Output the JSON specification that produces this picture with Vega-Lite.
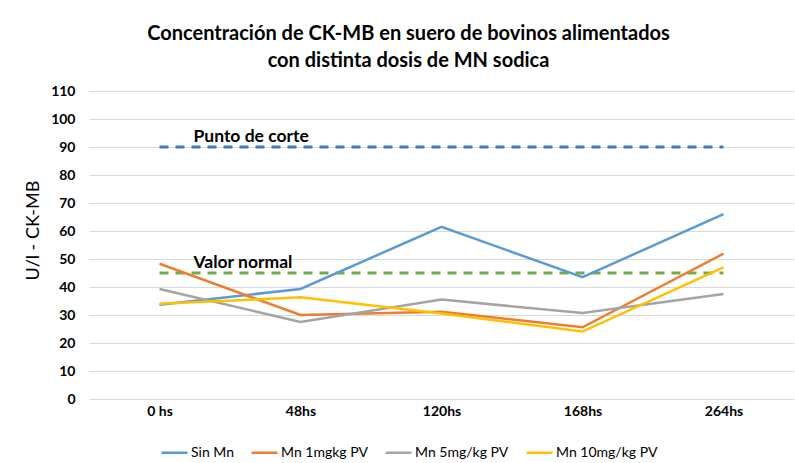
{
  "$schema": "https://vega.github.io/schema/vega-lite/v6.json",
  "autosize": {"type": "none"},
  "padding": {"left": 89, "top": 91, "right": 1, "bottom": 64},
  "width": 705,
  "height": 308,
  "background": "white",
  "config": {
    "font": "Lato",
    "view": {"stroke": null}
  },
  "title": {
    "text": ["Concentración de CK-MB en suero de bovinos alimentados", "con distinta dosis de MN sodica"],
    "fontSize": 20,
    "fontWeight": "bold",
    "color": "#000000",
    "lineHeight": 27,
    "anchor": "middle",
    "dx": -33,
    "offset": 13
  },
  "datasets": {
    "series": [
      {"tiempo": "0 hs", "serie": "Sin Mn", "valor": 33.7},
      {"tiempo": "48hs", "serie": "Sin Mn", "valor": 39.3},
      {"tiempo": "120hs", "serie": "Sin Mn", "valor": 61.5},
      {"tiempo": "168hs", "serie": "Sin Mn", "valor": 43.5},
      {"tiempo": "264hs", "serie": "Sin Mn", "valor": 66.0},
      {"tiempo": "0 hs", "serie": "Mn 1mgkg PV", "valor": 48.3},
      {"tiempo": "48hs", "serie": "Mn 1mgkg PV", "valor": 30.0},
      {"tiempo": "120hs", "serie": "Mn 1mgkg PV", "valor": 31.2},
      {"tiempo": "168hs", "serie": "Mn 1mgkg PV", "valor": 25.6},
      {"tiempo": "264hs", "serie": "Mn 1mgkg PV", "valor": 51.9},
      {"tiempo": "0 hs", "serie": "Mn 5mg/kg PV", "valor": 39.3},
      {"tiempo": "48hs", "serie": "Mn 5mg/kg PV", "valor": 27.5},
      {"tiempo": "120hs", "serie": "Mn 5mg/kg PV", "valor": 35.5},
      {"tiempo": "168hs", "serie": "Mn 5mg/kg PV", "valor": 30.7},
      {"tiempo": "264hs", "serie": "Mn 5mg/kg PV", "valor": 37.5},
      {"tiempo": "0 hs", "serie": "Mn 10mg/kg PV", "valor": 34.0},
      {"tiempo": "48hs", "serie": "Mn 10mg/kg PV", "valor": 36.3},
      {"tiempo": "120hs", "serie": "Mn 10mg/kg PV", "valor": 30.5},
      {"tiempo": "168hs", "serie": "Mn 10mg/kg PV", "valor": 24.1},
      {"tiempo": "264hs", "serie": "Mn 10mg/kg PV", "valor": 47.0}
    ],
    "refs": [
      {"tiempo": "0 hs", "ref": "Punto de corte", "valor": 90},
      {"tiempo": "48hs", "ref": "Punto de corte", "valor": 90},
      {"tiempo": "120hs", "ref": "Punto de corte", "valor": 90},
      {"tiempo": "168hs", "ref": "Punto de corte", "valor": 90},
      {"tiempo": "264hs", "ref": "Punto de corte", "valor": 90},
      {"tiempo": "0 hs", "ref": "Valor normal", "valor": 45},
      {"tiempo": "48hs", "ref": "Valor normal", "valor": 45},
      {"tiempo": "120hs", "ref": "Valor normal", "valor": 45},
      {"tiempo": "168hs", "ref": "Valor normal", "valor": 45},
      {"tiempo": "264hs", "ref": "Valor normal", "valor": 45}
    ],
    "reflabels": [
      {"tiempo": "0 hs", "ref": "Punto de corte", "valor": 90},
      {"tiempo": "0 hs", "ref": "Valor normal", "valor": 45}
    ]
  },
  "encoding": {
    "x": {
      "field": "tiempo",
      "type": "ordinal",
      "sort": ["0 hs", "48hs", "120hs", "168hs", "264hs"],
      "scale": {"type": "point", "padding": 0.5},
      "axis": {
        "title": null,
        "domain": false,
        "ticks": false,
        "labelAngle": 0,
        "labelFontSize": 14,
        "labelFontWeight": "bold",
        "labelColor": "#000000",
        "labelPadding": 5,
        "grid": false
      }
    },
    "y": {
      "field": "valor",
      "type": "quantitative",
      "scale": {"domain": [0, 110], "nice": false},
      "axis": {
        "title": "U/l  - CK-MB",
        "titleFontSize": 18,
        "titleFontWeight": "normal",
        "titleColor": "#000000",
        "titlePadding": 8,
        "titleY": 139,
        "values": [0, 10, 20, 30, 40, 50, 60, 70, 80, 90, 100, 110],
        "domain": false,
        "ticks": false,
        "labelFontSize": 14,
        "labelFontWeight": "bold",
        "labelColor": "#000000",
        "labelPadding": 14,
        "gridColor": "#D9D9D9",
        "gridWidth": 1
      }
    }
  },
  "layer": [
    {
      "data": {"name": "refs"},
      "mark": {"type": "line", "strokeWidth": 3, "strokeDash": [9, 7]},
      "encoding": {
        "detail": {"field": "ref"},
        "color": {
          "field": "ref",
          "type": "nominal",
          "scale": {"domain": ["Punto de corte", "Valor normal"], "range": ["#4472C4", "#70AD47"]},
          "legend": null
        }
      }
    },
    {
      "data": {"name": "reflabels"},
      "mark": {"type": "text", "align": "left", "baseline": "middle", "fontSize": 17.5, "fontWeight": "bold", "color": "#000000", "dx": 34, "dy": -10},
      "encoding": {
        "text": {"field": "ref"}
      }
    },
    {
      "data": {"name": "series"},
      "mark": {"type": "line", "strokeWidth": 2.5},
      "encoding": {
        "stroke": {
          "field": "serie",
          "type": "nominal",
          "sort": ["Sin Mn", "Mn 1mgkg PV", "Mn 5mg/kg PV", "Mn 10mg/kg PV"],
          "scale": {"domain": ["Sin Mn", "Mn 1mgkg PV", "Mn 5mg/kg PV", "Mn 10mg/kg PV"], "range": ["#5B9BD5", "#ED7D31", "#A5A5A5", "#FFC000"]},
          "legend": {
            "title": null,
            "orient": "none",
            "direction": "horizontal",
            "legendX": 71,
            "legendY": 347,
            "symbolType": "stroke",
            "symbolStrokeWidth": 2.5,
            "symbolSize": 676,
            "labelFontSize": 14,
            "labelColor": "#000000",
            "labelOffset": 2,
            "columnPadding": 12
          }
        }
      }
    }
  ]
}
